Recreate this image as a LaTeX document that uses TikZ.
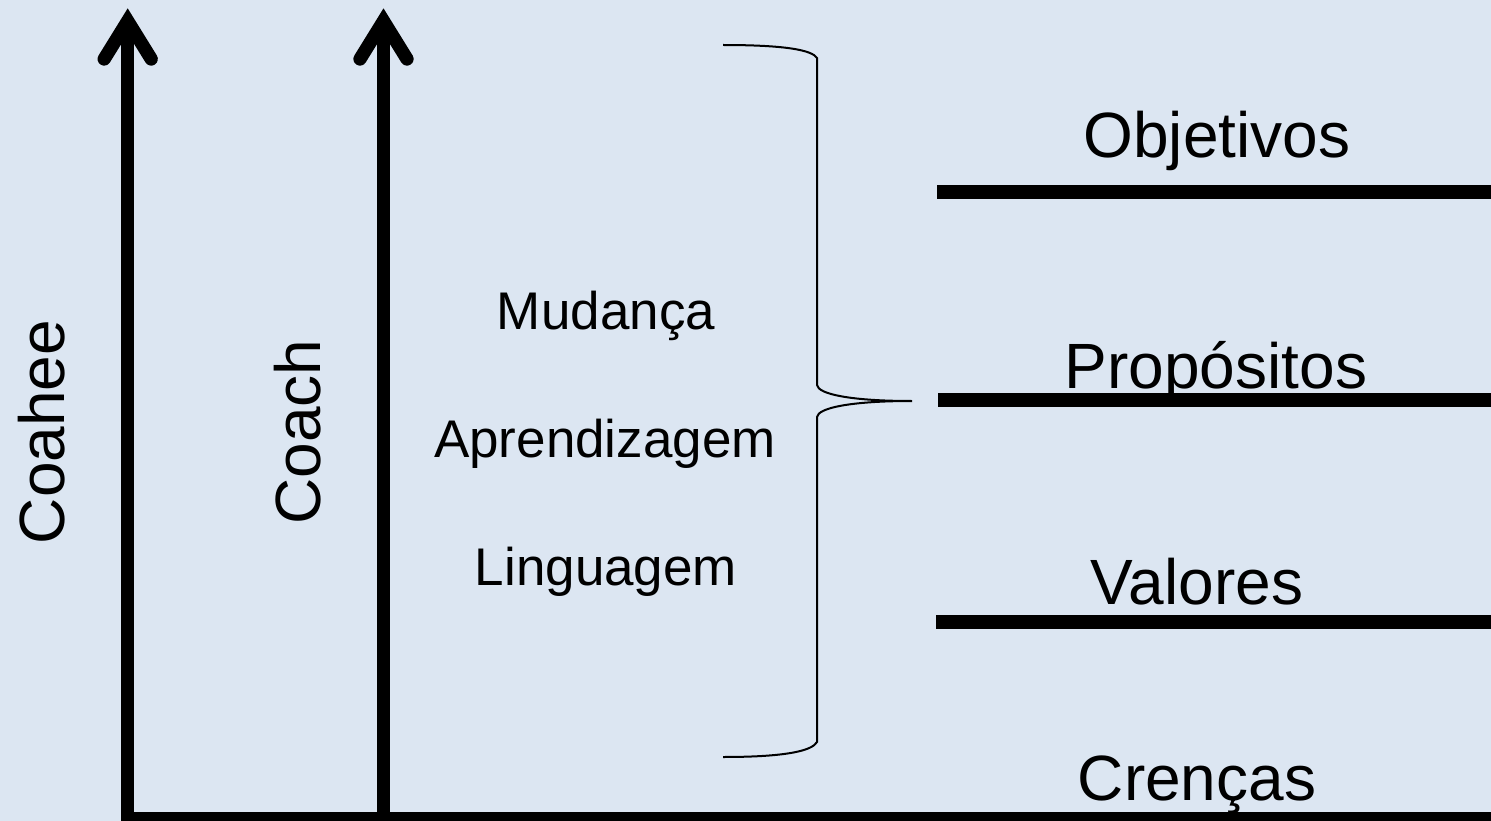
\documentclass[tikz,border=0pt]{standalone}
\usepackage{fontspec}
\setmainfont{Liberation Sans}
\usetikzlibrary{calc}
\definecolor{bgblue}{RGB}{220,230,242}
\tikzset{
  big/.style={font=\fontsize{64}{72}\selectfont, inner sep=0pt, anchor=base},
  mid/.style={font=\fontsize{53}{60}\selectfont, inner sep=0pt, anchor=base},
  thick axis/.style={line width=13.3pt, line join=miter, line cap=butt},
  headline/.style={line width=13.3pt, line join=miter, line cap=round},
  level/.style={line width=13.5pt},
  bracepath/.style={line width=2pt},
}
\begin{document}
\begin{tikzpicture}[x=1pt,y=-1pt]
\fill[bgblue] (0,0) rectangle (1491,821);
\useasboundingbox (0,0) rectangle (1491,821);
% axes
\coordinate (tipA) at (127.7,21);
\coordinate (tipB) at (383.5,21);
\coordinate (baseL) at (127.7,818.6);
\coordinate (baseB) at (383.5,818.6);
\coordinate (baseR) at (1500,818.6);
\draw[thick axis] (tipA) -- (baseL) -- (baseR);
\draw[thick axis] (tipB) -- (baseB);
\draw[headline] ($(tipA)+(-23.5,38)$) -- (tipA) -- ($(tipA)+(23.5,38)$);
\draw[headline] ($(tipB)+(-23.5,38)$) -- (tipB) -- ($(tipB)+(23.5,38)$);
% level lines
\coordinate (o1) at (937,192); \coordinate (o2) at (1500,192);
\coordinate (p1) at (938,400); \coordinate (p2) at (1500,400);
\coordinate (v1) at (936,622); \coordinate (v2) at (1500,622);
\draw[level] (o1) -- (o2);
\draw[level] (p1) -- (p2);
\draw[level] (v1) -- (v2);
% brace
\coordinate (bt) at (723,45);
\coordinate (bb) at (723,757);
\coordinate (btip) at (912,401);
\draw[bracepath] (bt) .. controls (785,45) and (812,50) .. (817,58)
  -- (817,385) .. controls (818,394) and (850,401) .. (btip)
  .. controls (850,401) and (818,408) .. (817,417)
  -- (817,742) .. controls (812,751) and (785,757) .. (bb);
% labels
\node[big] (obj) at (1217,158) {Objetivos};
\node[big] (prop) at (1216,388) {Propósitos};
\node[big] (val) at (1197,604) {Valores};
\node[big] (cren) at (1197,800) {Crenças};
\node[mid] (mud) at (606,329) {Mudança};
\node[mid] (apr) at (605,457) {Aprendizagem};
\node[mid] (lin) at (606,585) {Linguagem};
\node[big, rotate=90] (coahee) at (64,432) {Coahee};
\node[big, rotate=90] (coach) at (320,432) {Coach};
\end{tikzpicture}
\end{document}
